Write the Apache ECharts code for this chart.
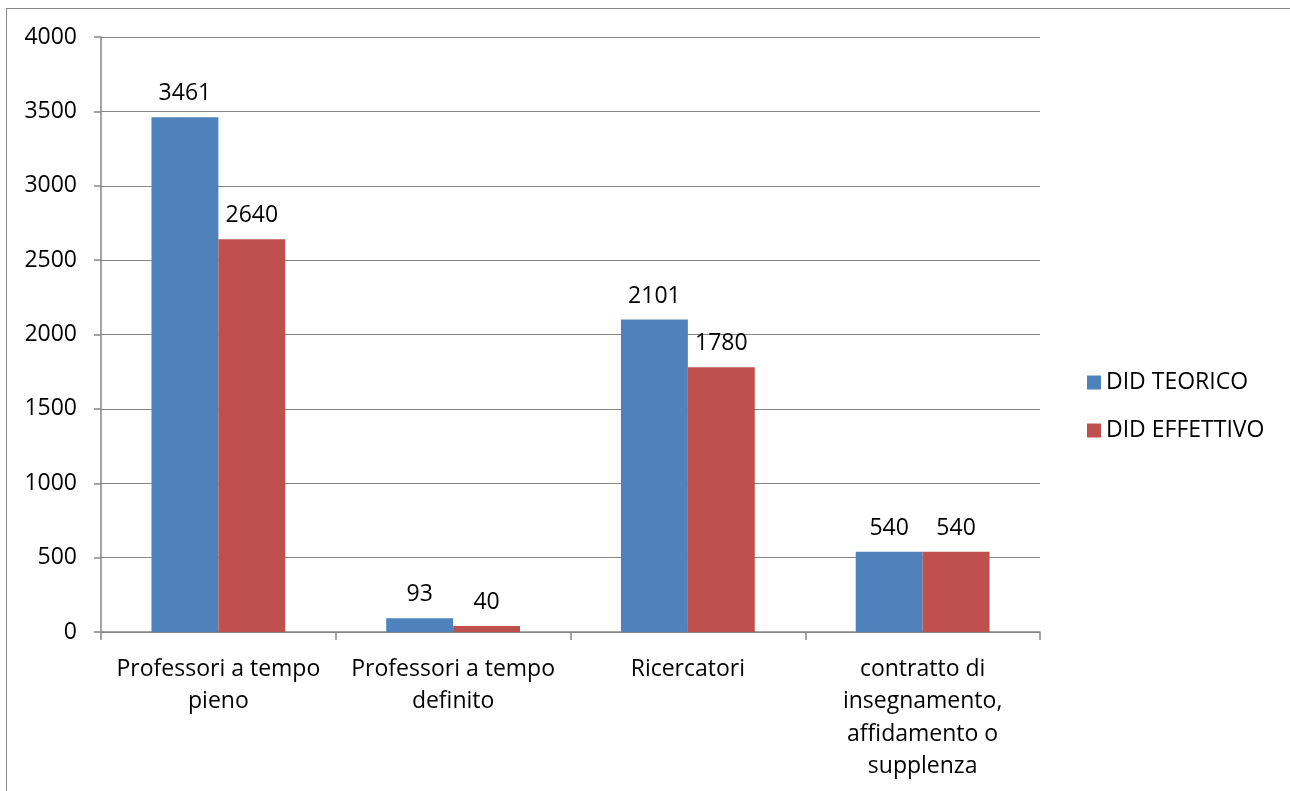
<!DOCTYPE html>
<html>
<head>
<meta charset="utf-8">
<script src="https://cdn.jsdelivr.net/npm/echarts@6/dist/echarts.min.js"></script>
<style>
  html, body { margin: 0; padding: 0; background: #fff; }
  #frame { position: absolute; left: 6px; top: 8px; width: 1300px; height: 800px; border: 1px solid #878787; box-sizing: border-box; }
  #chart { width: 1290px; height: 791px; position: absolute; left: 0; top: 0; }
</style>
</head>
<body>
<div id="frame"></div>
<div id="chart"></div>
<script>
// Categories of teaching staff and teaching-load values
const categories = [
  'Professori a tempo\npieno',
  'Professori a tempo\ndefinito',
  'Ricercatori',
  'contratto di\ninsegnamento,\naffidamento o\nsupplenza'
];
const didTeorico = [3461, 93, 2101, 540];
const didEffettivo = [2640, 40, 1780, 540];
const yTicks = [0, 500, 1000, 1500, 2000, 2500, 3000, 3500, 4000];

const FONT = '"Open Sans", sans-serif';
const FS = 23;
const axisGray = '#868686';

const chart = echarts.init(document.getElementById('chart'), null, { renderer: 'canvas' });
const labelStyle = {
  show: true, position: 'top', distance: 12,
  color: '#000', fontFamily: FONT, fontSize: FS
};
chart.setOption({
  animation: false,
  backgroundColor: 'transparent',
  grid: { left: 101, right: 250, top: 37, bottom: 159, containLabel: false },
  legend: {
    orient: 'vertical',
    left: 1082, top: 366,
    itemWidth: 14, itemHeight: 14, itemGap: 25,
    icon: 'rect',
    textStyle: { fontFamily: FONT, fontSize: FS, color: '#000', padding: [0, 0, 0, 0] },
    data: ['DID TEORICO', 'DID EFFETTIVO']
  },
  xAxis: {
    type: 'category',
    data: categories,
    axisLine: { lineStyle: { color: axisGray, width: 1.5 } },
    axisTick: { show: true, length: 8, lineStyle: { color: axisGray, width: 1.5 } },
    axisLabel: {
      interval: 0, margin: 21, lineHeight: 32.5,
      fontFamily: FONT, fontSize: FS, color: '#000', align: 'center'
    }
  },
  yAxis: {
    type: 'value',
    min: 0, max: yTicks[yTicks.length - 1], interval: 500,
    axisLine: { show: true, lineStyle: { color: axisGray, width: 1.5 } },
    axisTick: { show: true, length: 7, lineStyle: { color: axisGray, width: 1.5 } },
    splitLine: { lineStyle: { color: axisGray, width: 1.2 } },
    axisLabel: {
      margin: 24, fontFamily: FONT, fontSize: FS, color: '#000',
      formatter: v => String(v)
    }
  },
  series: [
    {
      name: 'DID TEORICO', type: 'bar', data: didTeorico,
      barGap: '0%', barCategoryGap: '43%',
      itemStyle: { color: '#4F81BD' },
      label: labelStyle
    },
    {
      name: 'DID EFFETTIVO', type: 'bar', data: didEffettivo,
      itemStyle: { color: '#C0504D' },
      label: labelStyle
    }
  ]
});
</script>
</body>
</html>
